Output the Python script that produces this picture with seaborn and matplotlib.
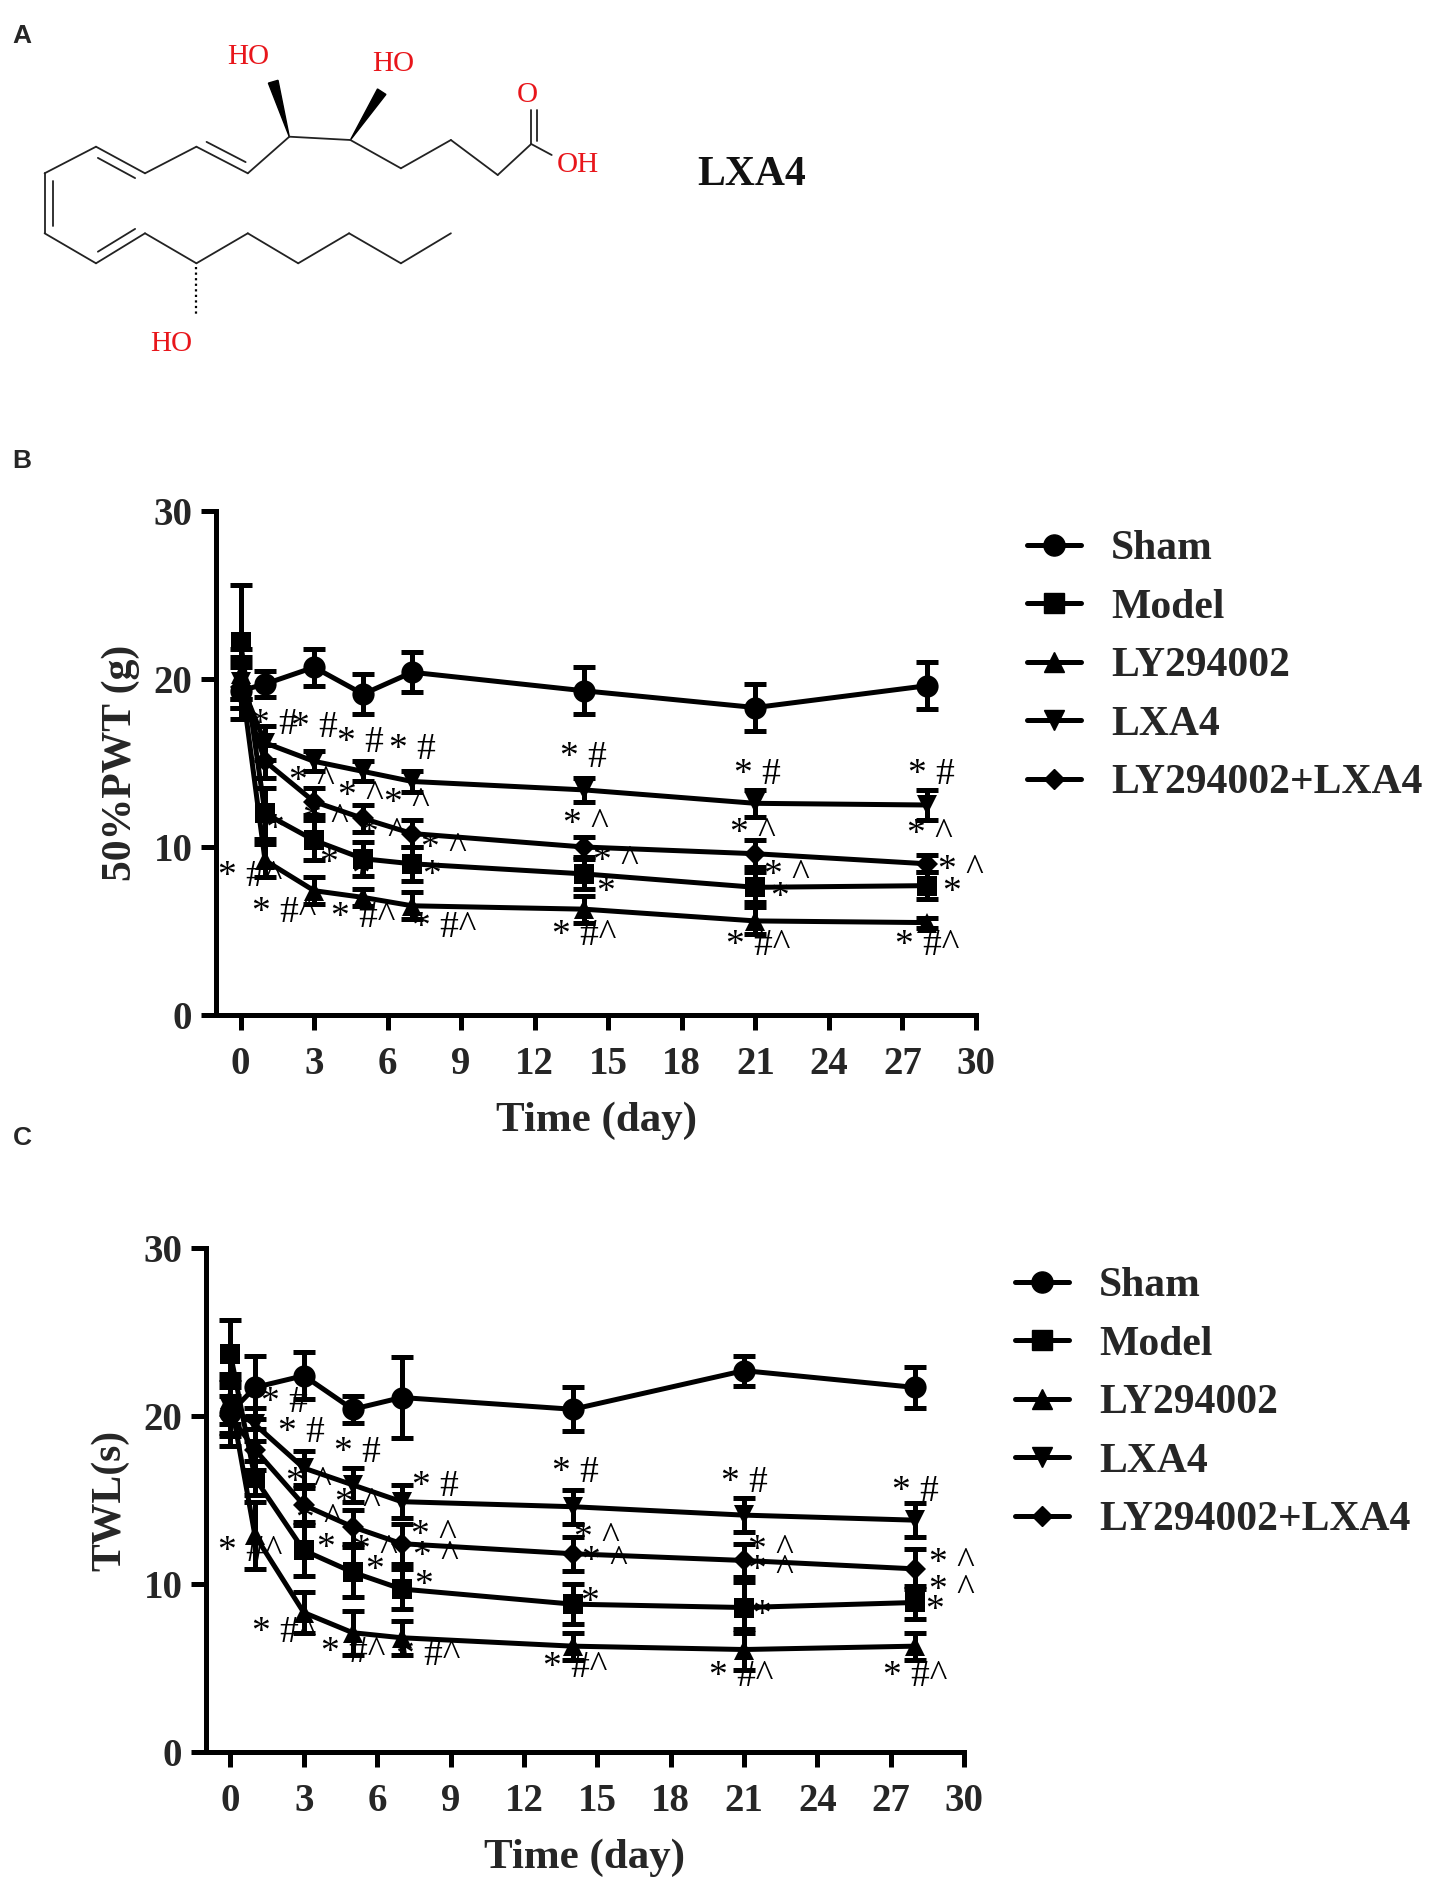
import numpy as np
import pandas as pd
import matplotlib
matplotlib.use("Agg")
import matplotlib.pyplot as plt
import seaborn as sns
from matplotlib.lines import Line2D
from matplotlib.patches import Polygon

# ---------------- data ----------------
days = [0, 1, 3, 5, 7, 14, 21, 28]
groups = ["Sham", "Model", "LY294002", "LXA4", "LY294002+LXA4"]

pwt_sham = [19.3, 19.7, 20.7, 19.1, 20.4, 19.3, 18.3, 19.6]
pwt_model = [22.2, 12.0, 10.4, 9.3, 9.0, 8.4, 7.6, 7.7]
pwt_ly = [20.3, 9.2, 7.4, 7.0, 6.5, 6.3, 5.6, 5.5]
pwt_lxa4 = [19.8, 16.2, 15.1, 14.5, 13.9, 13.4, 12.6, 12.5]
pwt_combo = [19.5, 15.1, 12.7, 11.7, 10.8, 10.0, 9.6, 9.0]
pwt_sem_sham = [1.7, 0.8, 1.1, 1.2, 1.2, 1.4, 1.4, 1.4]
pwt_sem_model = [3.4, 1.5, 1.2, 1.0, 1.0, 0.9, 0.9, 0.8]
pwt_sem_ly = [1.5, 1.0, 0.8, 0.5, 0.8, 0.8, 0.8, 0.3]
pwt_sem_lxa4 = [1.5, 1.0, 0.6, 0.6, 0.6, 0.7, 0.8, 0.9]
pwt_sem_combo = [1.2, 1.0, 0.8, 0.8, 0.8, 0.6, 0.8, 0.5]

twl_sham = [20.2, 21.7, 22.4, 20.4, 21.1, 20.4, 22.7, 21.7]
twl_model = [23.7, 16.3, 12.0, 10.7, 9.7, 8.8, 8.6, 8.9]
twl_ly = [21.0, 12.9, 8.3, 7.1, 6.8, 6.3, 6.1, 6.3]
twl_lxa4 = [20.5, 19.5, 16.9, 15.9, 14.9, 14.6, 14.1, 13.8]
twl_combo = [20.0, 18.0, 14.7, 13.4, 12.4, 11.8, 11.4, 10.9]
twl_sem_sham = [2.0, 1.9, 1.4, 0.8, 2.4, 1.3, 0.9, 1.2]
twl_sem_model = [2.0, 1.0, 1.5, 1.5, 1.2, 1.2, 1.5, 1.0]
twl_sem_ly = [1.5, 2.0, 1.2, 1.3, 1.0, 0.8, 1.2, 0.8]
twl_sem_lxa4 = [1.5, 1.0, 1.0, 1.0, 1.0, 1.0, 1.0, 1.0]
twl_sem_combo = [1.2, 1.2, 1.0, 1.0, 1.2, 1.0, 1.0, 1.2]

x_ticks = list(range(0, 31, 3))
y_ticks = [0, 10, 20, 30]

ann_B = [
    (1.4, 17.3, "* #"), (3.0, 17.1, "* #"), (4.9, 16.2, "* #"), (7.0, 15.8, "* #"),
    (2.9, 13.9, "* ^"), (4.9, 13.0, "* ^"), (6.8, 12.6, "* ^"),
    (3.5, 11.6, "* ^"), (5.8, 10.8, "* ^"), (8.3, 9.9, "* ^"),
    (1.4, 11.0, "*"), (3.6, 9.0, "*"), (4.9, 8.3, "*"), (7.8, 8.3, "*"),
    (0.4, 8.2, "* #^"), (1.8, 6.1, "* #^"), (5.0, 5.8, "* #^"), (8.3, 5.2, "* #^"),
    (14.0, 15.3, "* #"), (14.1, 11.3, "* ^"), (15.3, 9.1, "* ^"), (14.9, 7.3, "*"), (14.0, 4.7, "* #^"),
    (21.1, 14.3, "* #"), (20.9, 10.8, "* ^"), (22.3, 8.3, "* ^"), (22.0, 7.0, "*"), (21.1, 4.1, "* #^"),
    (28.2, 14.3, "* #"), (28.1, 10.7, "* ^"), (29.4, 8.6, "* ^"), (29.0, 7.3, "*"), (28.0, 4.1, "* #^"),
]
ann_C = [
    (2.2, 20.8, "* #"), (2.9, 19.0, "* #"), (5.2, 17.8, "* #"), (8.4, 15.8, "* #"),
    (3.2, 16.0, "* ^"), (5.2, 14.8, "* ^"), (8.3, 12.9, "* ^"),
    (3.6, 13.8, "* ^"), (5.9, 12.0, "* ^"), (8.4, 11.6, "* ^"),
    (3.9, 12.1, "*"), (5.9, 10.8, "*"), (7.9, 9.9, "*"),
    (0.8, 11.9, "* #^"), (2.2, 7.1, "* #^"), (5.0, 5.9, "* #^"), (8.1, 5.7, "* #^"),
    (14.1, 16.6, "* #"), (15.0, 12.7, "* ^"), (15.3, 11.3, "* ^"), (14.7, 8.9, "*"), (14.1, 5.0, "* #^"),
    (21.0, 16.0, "* #"), (22.1, 12.0, "* ^"), (22.1, 10.8, "* ^"), (21.7, 8.1, "*"), (20.9, 4.5, "* #^"),
    (28.0, 15.5, "* #"), (29.5, 11.2, "* ^"), (29.5, 9.6, "* ^"), (28.8, 8.4, "*"), (28.0, 4.5, "* #^"),
]

# ---------------- style ----------------
sns.set_theme(style="ticks")
plt.rcParams["font.family"] = ["Liberation Serif", "DejaVu Serif"]
plt.rcParams["axes.linewidth"] = 3.6
plt.rcParams["axes.edgecolor"] = "black"

W, H = 1437, 1878
fig = plt.figure(figsize=(W / 100, H / 100), dpi=100)
fig.patch.set_facecolor("white")

markers = {"Sham": "o", "Model": "s", "LY294002": "^", "LXA4": "v", "LY294002+LXA4": "D"}
msizes = {"Sham": 16, "Model": 15, "LY294002": 15, "LXA4": 15, "LY294002+LXA4": 11}
LW = 3.6


def px_axes(l, t, r, b):
    return fig.add_axes([l / W, 1 - b / H, (r - l) / W, (b - t) / H])


# ---------------- panel A: structure ----------------
ax0 = fig.add_axes([0, 0, 1, 1])
ax0.set_xlim(0, W)
ax0.set_ylim(H, 0)
ax0.axis("off")
ax0.patch.set_alpha(0)

P = {
    "a": (44.6, 173.3), "b": (44.6, 233.3), "c": (96.0, 146.7), "d": (145.0, 173.3),
    "e": (196.4, 146.7), "f": (247.8, 173.3), "g": (289.3, 136.7), "h": (350.4, 140.0),
    "i": (400.9, 168.3), "j": (450.9, 140.0), "k": (497.7, 175.0), "l": (531.2, 144.0),
    "O": (531.2, 110.0), "OH": (551.7, 155.0),
    "m": (96.0, 263.3), "n": (145.0, 233.3), "o": (196.4, 263.3), "p": (247.8, 233.3),
    "q": (298.2, 263.3), "r": (349.1, 233.3), "s": (400.9, 263.3), "t": (450.9, 233.3),
}
bonds = ["ab", "ac", "cd", "de", "ef", "fg", "gh", "hi", "ij", "jk", "kl",
         "bm", "mn", "no", "op", "pq", "qr", "rs", "st"]
bw = 1.3
for bnd in bonds:
    p1, p2 = P[bnd[0]], P[bnd[1]]
    ax0.plot([p1[0], p2[0]], [p1[1], p2[1]], color="#222222", lw=bw, solid_capstyle="round")
ax0.plot([P["l"][0], P["OH"][0]], [P["l"][1], P["OH"][1]], color="#222222", lw=bw)
ax0.plot([P["l"][0], P["O"][0]], [P["l"][1], P["O"][1]], color="#222222", lw=bw)
ax0.plot([P["l"][0] + 6, P["O"][0] + 6], [P["l"][1] - 3, P["O"][1]], color="#222222", lw=bw)


def dbl(k1, k2, ox, oy):
    p1, p2 = np.array(P[k1]), np.array(P[k2])
    v = p2 - p1
    a = p1 + 0.12 * v + np.array([ox, oy])
    b = p1 + 0.88 * v + np.array([ox, oy])
    ax0.plot([a[0], b[0]], [a[1], b[1]], color="#222222", lw=bw)


dbl("a", "b", 8, 0)
dbl("c", "d", -4, 8)
dbl("e", "f", 4, -8)
dbl("m", "n", -4, -8)

for base, tip in [("g", (273.2, 81.7)), ("h", (381.7, 91.7))]:
    gx, gy = P[base]
    dx, dy = tip[0] - gx, tip[1] - gy
    L = np.hypot(dx, dy)
    nx, ny = -dy / L * 5, dx / L * 5
    ax0.add_patch(Polygon([(gx, gy), (tip[0] + nx, tip[1] + ny), (tip[0] - nx, tip[1] - ny)],
                          closed=True, color="black"))
ax0.plot([P["o"][0], P["o"][0]], [P["o"][1] + 4, 315], color="black", lw=1.6, ls=(0, (1, 1.5)))

red = "#e8161b"
ax0.text(248, 57, "HO", color=red, fontsize=21, ha="center", va="center")
ax0.text(393, 64, "HO", color=red, fontsize=21, ha="center", va="center")
ax0.text(171, 344, "HO", color=red, fontsize=21, ha="center", va="center")
ax0.text(527, 95, "O", color=red, fontsize=21, ha="center", va="center")
ax0.text(578, 165, "OH", color=red, fontsize=21, ha="center", va="center")
ax0.text(752, 175, "LXA4", color="#111111", fontsize=30, fontweight="bold", ha="center", va="center")

for lab, (x, y) in {"A": (22, 36), "B": (22, 461), "C": (22, 1138)}.items():
    ax0.text(x, y, lab, fontsize=19, fontweight="bold", ha="center", va="center",
             family=["Liberation Sans", "DejaVu Sans"])


# ---------------- panels B & C ----------------
def panel(ax, means, sems, ylabel, ann, leg_xy):
    rows = []
    for g, m in zip(groups, means):
        for d, v in zip(days, m):
            rows.append((g, d, v))
    df = pd.DataFrame(rows, columns=["group", "day", "value"])
    sns.lineplot(data=df, x="day", y="value", hue="group", style="group",
                 hue_order=groups, style_order=groups, palette=["black"] * 5,
                 markers=markers, dashes=False, linewidth=LW, markersize=15,
                 markeredgecolor="black", markeredgewidth=0, legend=False, ax=ax,
                 errorbar=None)
    for line, g in zip(ax.lines, groups):
        line.set_markersize(msizes[g])
        line.set_clip_on(False)
    for g, m, s in zip(groups, means, sems):
        ax.errorbar(days, m, yerr=s, fmt="none", ecolor="black", elinewidth=LW,
                    capsize=8, capthick=LW, clip_on=False)
    for x, y, t in ann:
        ax.text(x, y, t, fontsize=27, ha="center", va="center", color="black")

    ax.set_xlim(-1, 30)
    ax.set_ylim(0, 30)
    ax.set_xticks(x_ticks)
    ax.set_yticks(y_ticks)
    ax.tick_params(axis="both", length=11, width=LW, color="black", labelsize=28, pad=6)
    ax.tick_params(axis="x", pad=11)
    for lbl in ax.get_xticklabels() + ax.get_yticklabels():
        lbl.set_fontweight("bold")
    sns.despine(ax=ax)
    ax.set_xlabel("Time (day)", fontsize=31, fontweight="bold", labelpad=14)
    ax.set_ylabel(ylabel, fontsize=30, fontweight="bold", labelpad=10)
    ax.set_facecolor("none")

    handles = [Line2D([], [], color="black", lw=LW, marker=markers[g], markersize=msizes[g] * 0.95)
               for g in groups]
    ax.legend(handles, groups, loc="upper left",
              bbox_to_anchor=(leg_xy[0] / W, 1 - leg_xy[1] / H), bbox_transform=fig.transFigure,
              frameon=False, prop={"weight": "bold", "size": 30}, handlelength=1.3,
              handletextpad=0.72, labelspacing=0.49, borderpad=0, borderaxespad=0)


axB = px_axes(216, 511, 976, 1015)
panel(axB, [pwt_sham, pwt_model, pwt_ly, pwt_lxa4, pwt_combo],
      [pwt_sem_sham, pwt_sem_model, pwt_sem_ly, pwt_sem_lxa4, pwt_sem_combo],
      "50%PWT (g)", ann_B, (1027, 530))

axC = px_axes(206, 1248, 964, 1752)
panel(axC, [twl_sham, twl_model, twl_ly, twl_lxa4, twl_combo],
      [twl_sem_sham, twl_sem_model, twl_sem_ly, twl_sem_lxa4, twl_sem_combo],
      "TWL(s)", ann_C, (1015, 1267))

fig.savefig("out.png", dpi=100, facecolor="white")
